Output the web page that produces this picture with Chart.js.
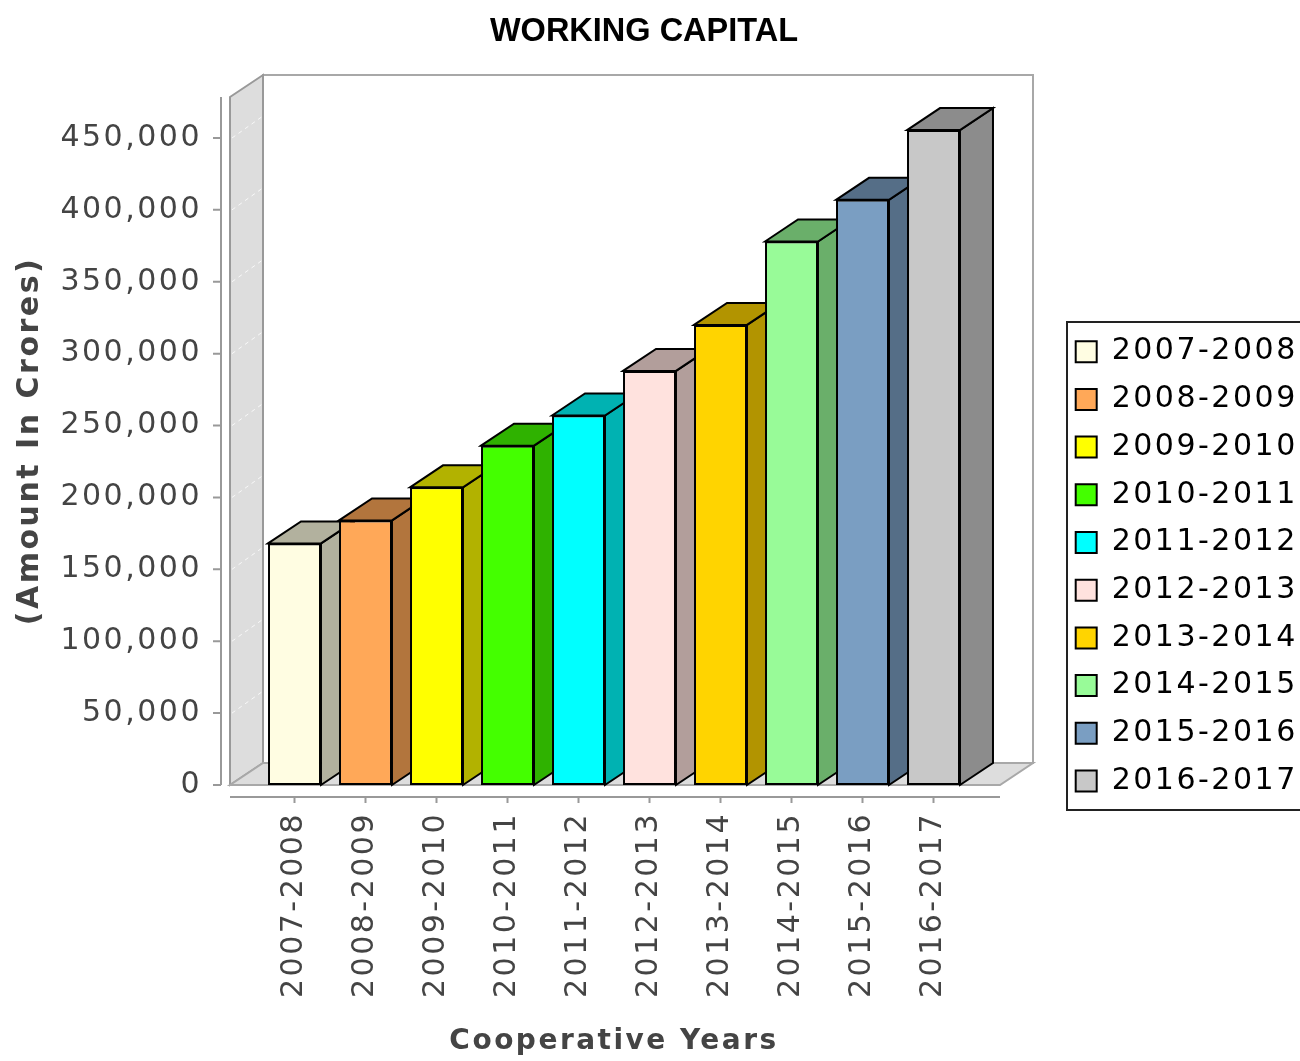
<!DOCTYPE html>
<html>
<head>
<meta charset="utf-8">
<title>Working Capital</title>
<script src="https://cdn.jsdelivr.net/npm/chart.js@4.4.1/dist/chart.umd.min.js"></script>
<style>
  html, body { margin: 0; padding: 0; background: #fff; }
</style>
</head>
<body>
<canvas id="wcChart" width="1300" height="1061"></canvas>
<script>
// data
const years = ['2007-2008', '2008-2009', '2009-2010', '2010-2011', '2011-2012',
               '2012-2013', '2013-2014', '2014-2015', '2015-2016', '2016-2017'];
const workingCapital = [168000, 184000, 207000, 236000, 257000,
                        288000, 320000, 378000, 407000, 455500];
const barColors = ['#FFFDE2', '#FFA858', '#FFFF00', '#44FF00', '#00FFFF',
                   '#FFE2DE', '#FFD400', '#98FB98', '#7A9EC2', '#C8C8C8'];
const yTickValues = [0, 50000, 100000, 150000, 200000, 250000, 300000, 350000, 400000, 450000];
const yMax = 478500;

// 3d look
const DX = 33, DY = 22;
const SLOT = 71;           // width of one category
const WALL_LEFT = 29;      // front wall left of first slot
const WALL_RIGHT = 31;     // floor end right of last slot
const LEGEND_LEFT = 1058, LEGEND_TOP = 319;
let rightGap = 0;          // space between plot and legend, set after first layout

Chart.defaults.font.family = "'DejaVu Sans', sans-serif";

function darker(hex) {
    const n = parseInt(hex.slice(1), 16);
    const r = Math.floor(((n >> 16) & 255) * 0.7);
    const g = Math.floor(((n >> 8) & 255) * 0.7);
    const b = Math.floor((n & 255) * 0.7);
    return `rgb(${r},${g},${b})`;
}

function poly(ctx, pts) {
    ctx.beginPath();
    ctx.moveTo(pts[0][0], pts[0][1]);
    for (let i = 1; i < pts.length; i++) ctx.lineTo(pts[i][0], pts[i][1]);
    ctx.closePath();
}

// wider letters (like the java font of the original), but not for the main title
const spacing = {
    id: 'spacing',
    afterInit(chart) {
        const tb = chart.titleBlock;
        const draw = tb.draw.bind(tb);
        tb.draw = (area) => {
            chart.ctx.letterSpacing = '0px';
            draw(area);
            chart.ctx.letterSpacing = '2.5px';
        };
    },
    beforeLayout(chart) { chart.ctx.letterSpacing = '2.5px'; },
    beforeDraw(chart) { chart.ctx.letterSpacing = '2.5px'; },
    afterLayout(chart) {
        const lg = chart.legend;
        lg.left = LEGEND_LEFT;
        lg.right = lg.left + lg.width;
        lg.top = LEGEND_TOP;
    }
};

// walls, floor, axes lines and the side/top faces of the bars
const bar3d = {
    id: 'bar3d',
    beforeDatasetsDraw(chart) {
        const { ctx, chartArea: a, scales: { x, y } } = chart;
        const L = a.left - WALL_LEFT, R = a.right + WALL_RIGHT;
        const T = a.top, B = a.bottom;
        ctx.save();
        ctx.lineJoin = 'miter';

        // back wall
        ctx.strokeStyle = '#a8a8a8';
        ctx.lineWidth = 2;
        ctx.strokeRect(L + DX, T - DY, R - L, B - T);

        // left wall
        ctx.fillStyle = '#dddddd';
        ctx.strokeStyle = '#999';
        poly(ctx, [[L, T], [L + DX, T - DY], [L + DX, B - DY], [L, B]]);
        ctx.fill();
        ctx.stroke();

        // faint grid lines on the wall
        ctx.save();
        ctx.strokeStyle = 'rgba(255,255,255,0.8)';
        ctx.lineWidth = 1;
        ctx.setLineDash([4, 4]);
        y.ticks.forEach(t => {
            if (t.value === 0) return;
            const py = y.getPixelForValue(t.value);
            ctx.beginPath();
            ctx.moveTo(L + 2, py);
            ctx.lineTo(L + DX, py - DY);
            ctx.stroke();
        });
        ctx.restore();

        // floor
        ctx.fillStyle = '#dddddd';
        ctx.strokeStyle = '#a8a8a8';
        poly(ctx, [[L, B], [L + DX, B - DY], [R + DX, B - DY], [R, B]]);
        ctx.fill();
        ctx.stroke();

        // value axis line + ticks
        ctx.strokeStyle = '#999';
        ctx.lineWidth = 2;
        ctx.beginPath();
        ctx.moveTo(L - 9, T);
        ctx.lineTo(L - 9, B);
        y.ticks.forEach(t => {
            const py = y.getPixelForValue(t.value);
            ctx.moveTo(L - 17, py);
            ctx.lineTo(L - 9, py);
        });
        ctx.stroke();

        // category axis line + ticks
        ctx.beginPath();
        ctx.moveTo(L, B + 12);
        ctx.lineTo(R, B + 12);
        years.forEach((c, i) => {
            const px = x.getPixelForValue(i);
            ctx.moveTo(px, B + 12);
            ctx.lineTo(px, B + 18);
        });
        ctx.stroke();

        // bar sides and tops
        ctx.strokeStyle = '#000';
        ctx.lineWidth = 2;
        chart.getDatasetMeta(0).data.forEach((bar, i) => {
            const p = bar.getProps(['x', 'y', 'base', 'width'], true);
            const x1 = p.x - p.width / 2, x2 = p.x + p.width / 2;
            ctx.fillStyle = darker(barColors[i]);
            poly(ctx, [[x2, p.base], [x2 + DX, p.base - DY], [x2 + DX, p.y - DY], [x2, p.y]]);
            ctx.fill();
            ctx.stroke();
            poly(ctx, [[x1, p.y], [x1 + DX, p.y - DY], [x2 + DX, p.y - DY], [x2, p.y]]);
            ctx.fill();
            ctx.stroke();
        });
        ctx.restore();
    },
    afterDraw(chart) {
        const { ctx } = chart;
        const lg = chart.legend;
        ctx.save();
        ctx.strokeStyle = '#222';
        ctx.lineWidth = 2;
        ctx.strokeRect(lg.left + 9, lg.top + 3, 300, 488);
        ctx.restore();
    }
};

const ctx = document.getElementById('wcChart').getContext('2d');

const chart = new Chart(ctx, {
    type: 'bar',
    data: {
        labels: years,
        datasets: [{
            label: 'Working Capital',
            data: workingCapital,
            yAxisID: 'y',
            backgroundColor: barColors,
            borderColor: '#000',
            borderWidth: 2,
            borderSkipped: false,
            categoryPercentage: 1,
            barPercentage: 0.746
        }]
    },
    options: {
        responsive: false,
        animation: false,
        layout: { padding: { left: 0, right: 12, top: 0, bottom: 0 } },
        plugins: {
            title: {
                display: true,
                text: 'WORKING CAPITAL',
                color: '#000',
                font: { family: "'Liberation Sans', sans-serif", weight: 'bold', size: 32.5, lineHeight: 1.2 },
                padding: { top: 12.5, bottom: 45.5 }
            },
            legend: {
                position: 'right',
                align: 'start',
                maxWidth: 280,
                labels: {
                    boxWidth: 21,
                    boxHeight: 21,
                    padding: 17.7,
                    color: '#444',
                    font: { size: 30 },
                    generateLabels: () => years.map((yr, i) => ({
                        text: yr,
                        fillStyle: barColors[i],
                        strokeStyle: '#000',
                        lineWidth: 2,
                        hidden: false,
                        index: i
                    }))
                }
            },
            tooltip: { enabled: false }
        },
        scales: {
            x: {
                grid: { display: false, drawTicks: true, tickLength: 24 },
                border: { display: false },
                ticks: {
                    color: '#444',
                    font: { size: 30 },
                    minRotation: 90,
                    maxRotation: 90,
                    autoSkip: false,
                    padding: 3
                },
                title: {
                    display: true,
                    text: 'Cooperative Years',
                    color: '#444',
                    font: { size: 28, weight: 'bold' },
                    padding: { top: 0, bottom: 2 }
                },
                afterFit: s => { s.height = 276; }
            },
            y: {
                min: 0,
                max: yMax,
                grid: { display: false, drawTicks: true, tickLength: 54 },
                border: { display: false },
                afterBuildTicks: s => { s.ticks = yTickValues.map(v => ({ value: v })); },
                ticks: {
                    color: '#444',
                    font: { size: 30 },
                    padding: 3,
                    callback: v => v.toLocaleString('en-US')
                },
                title: {
                    display: true,
                    text: '(Amount In Crores)',
                    color: '#444',
                    font: { size: 30, weight: 'bold' },
                    padding: { top: 12, bottom: 0 }
                },
                afterFit: s => { s.width = 259; }
            },
            // empty spacer between the 3d plot and the legend
            gap: {
                type: 'linear',
                position: 'right',
                grid: { display: false },
                border: { display: false },
                ticks: { display: false },
                afterFit: s => { s.width = rightGap; }
            }
        }
    },
    plugins: [spacing, bar3d]
});

// make every category slot SLOT px wide
rightGap = chart.chartArea.right - (chart.chartArea.left + SLOT * years.length);
chart.update();
</script>
</body>
</html>
